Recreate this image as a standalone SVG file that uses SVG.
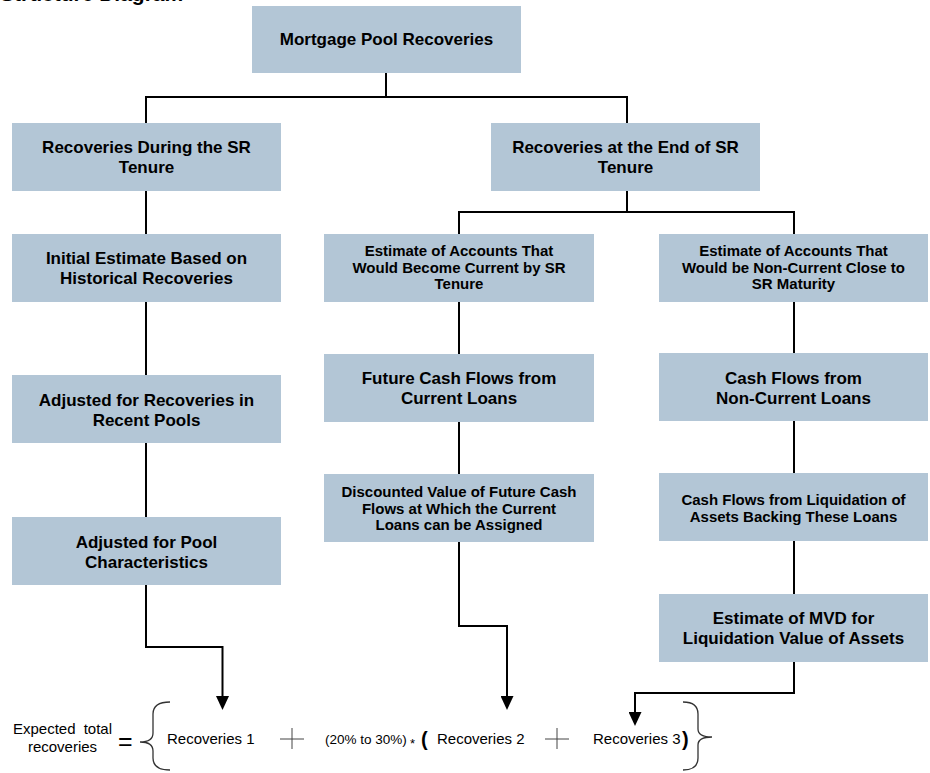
<svg xmlns="http://www.w3.org/2000/svg" width="930" height="773" viewBox="0 0 930 773">
<style>
.box{fill:#B3C6D6;stroke:none}
.lg{font-family:"Liberation Sans",Arial,sans-serif;font-weight:bold;font-size:17px;fill:#000;text-anchor:middle}
.sm{font-family:"Liberation Sans",Arial,sans-serif;font-weight:bold;font-size:15px;fill:#000;text-anchor:middle}
.eq{font-family:"Liberation Sans",Arial,sans-serif;font-size:15px;fill:#000}
.conn{fill:none;stroke:#000;stroke-width:2}
.thin{fill:none;stroke:#333;stroke-width:1.3}
.plus{stroke:#444;stroke-width:1}
</style>
<defs>
<marker id="arr" viewBox="0 0 14 13" refX="0" refY="6.5" markerWidth="14" markerHeight="13" markerUnits="userSpaceOnUse" orient="auto">
<path d="M0,0 L14,6.5 L0,13 z" fill="#000"/>
</marker>
</defs>
<rect width="930" height="773" fill="#fff"/>
<text x="0" y="0.6" style="font-family:'Liberation Sans',Arial,sans-serif;font-weight:bold;font-size:21px;fill:#000">Structure Diagram</text>

<g id="connectors">
<path class="conn" d="M386,73 V97 M147,97 H627 M146,96 V123 M627,96 V123"/>
<path class="conn" d="M146,191 V234 M146,302 V375 M146,443 V517"/>
<path class="conn" d="M627,191 V212 M459,212 H795 M459,211 V234 M794,211 V234"/>
<path class="conn" d="M459,302 V354 M459,422 V474"/>
<path class="conn" d="M794,302 V353 M794,421 V473 M794,541 V594"/>
<path class="conn" d="M146,585 V647 H222.5 V696" marker-end="url(#arr)"/>
<path class="conn" d="M459,542 V626 H507 V696" marker-end="url(#arr)"/>
<path class="conn" d="M794,662 V693 H635 V712" marker-end="url(#arr)"/>
</g>

<g id="n-top"><rect class="box" x="252" y="6" width="269" height="67"/><text class="lg" x="386.5" y="45">Mortgage Pool Recoveries</text></g>
<g id="n-during"><rect class="box" x="12" y="123" width="269" height="68"/><text class="lg" x="146.5" y="153">Recoveries During the SR</text><text class="lg" x="146.5" y="173">Tenure</text></g>
<g id="n-initial"><rect class="box" x="12" y="234" width="269" height="68"/><text class="lg" x="146.5" y="264">Initial Estimate Based on</text><text class="lg" x="146.5" y="284">Historical Recoveries</text></g>
<g id="n-adjrecent"><rect class="box" x="12" y="375" width="269" height="68"/><text class="lg" x="146.5" y="406">Adjusted for Recoveries in</text><text class="lg" x="146.5" y="426">Recent Pools</text></g>
<g id="n-adjpool"><rect class="box" x="12" y="517" width="269" height="68"/><text class="lg" x="146.5" y="548">Adjusted for Pool</text><text class="lg" x="146.5" y="568">Characteristics</text></g>

<g id="n-end"><rect class="box" x="491" y="123" width="269" height="68"/><text class="lg" x="625.5" y="153">Recoveries at the End of SR</text><text class="lg" x="625.5" y="173">Tenure</text></g>
<g id="n-current"><rect class="box" x="324" y="234" width="270" height="68"/><text class="sm" x="459" y="256">Estimate of Accounts That</text><text class="sm" x="459" y="272.5">Would Become Current by SR</text><text class="sm" x="459" y="289">Tenure</text></g>
<g id="n-noncurrent"><rect class="box" x="659" y="234" width="269" height="68"/><text class="sm" x="793.5" y="256">Estimate of Accounts That</text><text class="sm" x="793.5" y="272.5">Would be Non-Current Close to</text><text class="sm" x="793.5" y="289">SR Maturity</text></g>
<g id="n-futurecf"><rect class="box" x="324" y="354" width="270" height="68"/><text class="lg" x="459" y="384">Future Cash Flows from</text><text class="lg" x="459" y="404">Current Loans</text></g>
<g id="n-discounted"><rect class="box" x="324" y="474" width="270" height="68"/><text class="sm" x="459" y="497">Discounted Value of Future Cash</text><text class="sm" x="459" y="513.5">Flows at Which the Current</text><text class="sm" x="459" y="530">Loans can be Assigned</text></g>
<g id="n-noncurcf"><rect class="box" x="659" y="353" width="269" height="68"/><text class="lg" x="793.5" y="383.5">Cash Flows from</text><text class="lg" x="793.5" y="403.5">Non-Current Loans</text></g>
<g id="n-liquidation"><rect class="box" x="659" y="473" width="269" height="68"/><text class="sm" x="793.5" y="504.5">Cash Flows from Liquidation of</text><text class="sm" x="793.5" y="521.5">Assets Backing These Loans</text></g>
<g id="n-mvd"><rect class="box" x="659" y="594" width="269" height="68"/><text class="lg" x="793.5" y="624">Estimate of MVD for</text><text class="lg" x="793.5" y="644">Liquidation Value of Assets</text></g>

<g id="formula">
<text class="eq" x="62.5" y="734" text-anchor="middle" word-spacing="4">Expected total</text>
<text class="eq" x="62.5" y="752" text-anchor="middle">recoveries</text>
<text class="eq" x="118" y="750" style="font-size:25px">=</text>
<path class="thin" d="M170,702 Q153,702 153,714 L153,733 Q153,742 140,742 Q153,742 153,751 L153,758 Q153,770 170,770"/>
<text class="eq" x="167" y="744">Recoveries 1</text>
<line class="plus" x1="280" y1="739" x2="304" y2="739"/><line class="plus" x1="292" y1="728" x2="292" y2="749"/>
<text class="eq" x="325" y="744" style="font-size:13.5px">(20% to 30%)</text>
<text class="eq" x="410" y="748" style="font-size:13px">*</text>
<text class="eq" x="421" y="746" style="font-size:20px;font-weight:bold">(</text>
<text class="eq" x="437" y="744">Recoveries 2</text>
<line class="plus" x1="545" y1="739" x2="569" y2="739"/><line class="plus" x1="557" y1="728" x2="557" y2="749"/>
<text class="eq" x="593" y="744">Recoveries 3</text>
<text class="eq" x="682" y="746" style="font-size:20px;font-weight:bold">)</text>
<path class="thin" d="M683,702 Q698,702 698,714 L698,729 Q698,737 712,737 Q698,737 698,745 L698,758 Q698,770 683,770"/>
</g>
</svg>
